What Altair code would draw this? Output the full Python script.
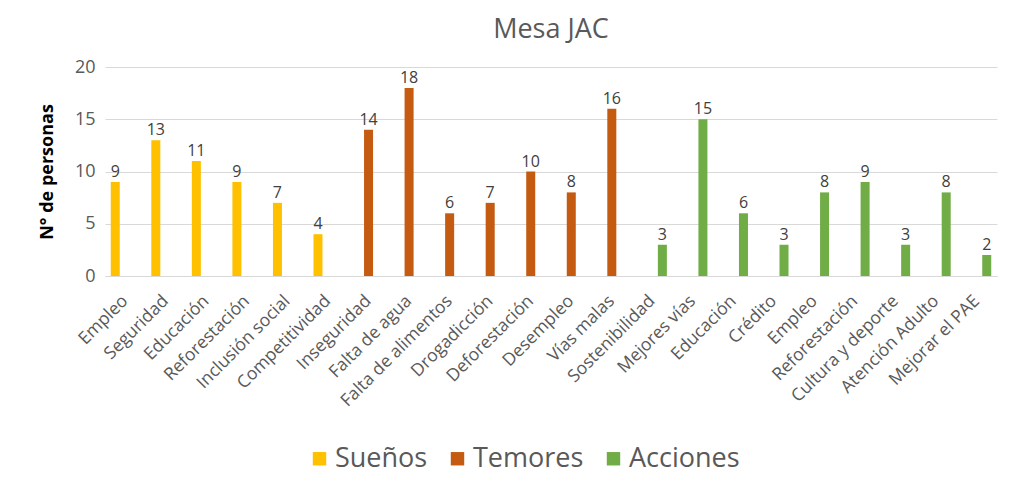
import altair as alt
import pandas as pd

groups = ["Sueños", "Temores", "Acciones"]
colors = ["#FFC000", "#C55A11", "#70AD47"]

suenos_cat = ["Empleo", "Seguridad", "Educación", "Reforestación", "Inclusión social", "Competitividad"]
suenos_val = [9, 13, 11, 9, 7, 4]
temores_cat = ["Inseguridad", "Falta de agua", "Falta de alimentos", "Drogadicción", "Deforestación", "Desempleo", "Vías malas"]
temores_val = [14, 18, 6, 7, 10, 8, 16]
acciones_cat = ["Sostenibilidad", "Mejores vías", "Educación", "Crédito", "Empleo", "Reforestación",
                "Cultura y deporte", "Atención Adulto", "Mejorar el PAE"]
acciones_val = [3, 15, 6, 3, 8, 9, 3, 8, 2]

rows = []
for g, cats, vals in [("Sueños", suenos_cat, suenos_val),
                      ("Temores", temores_cat, temores_val),
                      ("Acciones", acciones_cat, acciones_val)]:
    for c, v in zip(cats, vals):
        rows.append({"key": f"{len(rows):02d}|{c}", "grupo": g, "valor": v})
df = pd.DataFrame(rows)
keys = list(df["key"])

FONT = "Open Sans"
GRAY = "#595959"

x = alt.X("key:N", sort=keys, title=None,
          scale=alt.Scale(paddingInner=0, paddingOuter=0),
          axis=alt.Axis(labelExpr="split(datum.label, '|')[1]", labelAngle=-45,
                        labelAlign="right", labelBaseline="middle",
                        labelFontSize=17.5, labelColor=GRAY, labelFont=FONT,
                        ticks=False, grid=False, domainColor="#d9d9d9", labelPadding=22))
xo = alt.XOffset("grupo:N", sort=groups,
                 scale=alt.Scale(domain=groups, paddingInner=0.1, paddingOuter=0.575))
y = alt.Y("valor:Q", title="N° de personas",
          scale=alt.Scale(domain=[0, 20], nice=False),
          axis=alt.Axis(values=[0, 5, 10, 15, 20], ticks=False, domain=False, grid=True,
                        gridColor="#d9d9d9", labelColor=GRAY, labelFontSize=18,
                        labelFont=FONT, labelPadding=10,
                        titleFont=FONT, titleFontSize=18, titleFontWeight="bold",
                        titleColor="#000000", titlePadding=18))

bars = alt.Chart(df).mark_bar().encode(
    x=x, xOffset=xo, y=y,
    color=alt.Color("grupo:N", sort=groups,
                    scale=alt.Scale(domain=groups, range=colors),
                    legend=alt.Legend(title=None, orient="none", direction="horizontal",
                                      legendX=201, legendY=378, symbolType="square",
                                      symbolSize=180, symbolStrokeWidth=0,
                                      labelFontSize=27, labelFont=FONT, labelColor=GRAY,
                                      columnPadding=16, labelOffset=2)),
)
labels = alt.Chart(df).mark_text(dy=-10, fontSize=16, font=FONT, color="#404040").encode(
    x=x, xOffset=xo, y=y, text="valor:Q")

chart = (bars + labels).properties(
    width=892, height=209,
    autosize=alt.AutoSizeParams(type="none"),
    padding={"left": 97, "top": 59, "right": 4, "bottom": 211},
    title=alt.TitleParams("Mesa JAC", fontSize=27, font=FONT, color=GRAY,
                          fontWeight="normal", offset=14, anchor="middle"),
).configure_view(stroke=None)

chart.save("out.html", embed_options={"renderer": "svg", "actions": False})
